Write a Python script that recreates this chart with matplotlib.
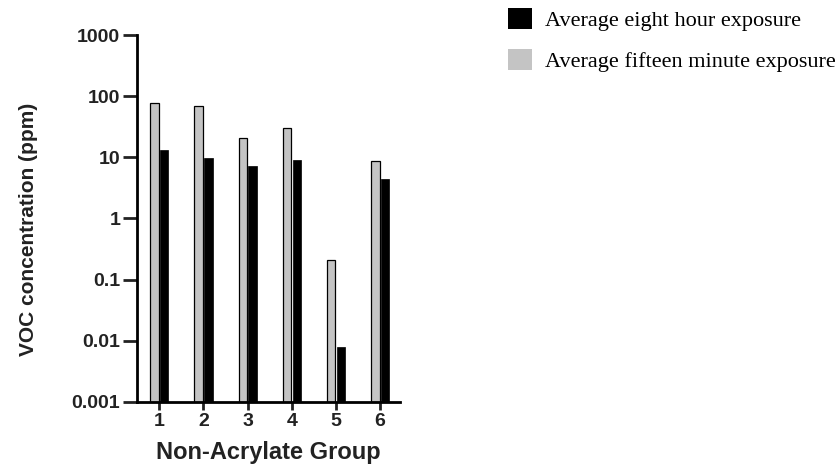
import matplotlib
matplotlib.use("Agg")
import matplotlib.pyplot as plt
from matplotlib.patches import Patch
from matplotlib.ticker import FixedLocator, NullLocator
import numpy as np

groups = ["1", "2", "3", "4", "5", "6"]
fifteen_min = [77, 69, 21, 30, 0.21, 8.6]
eight_hour = [13, 9.7, 7.2, 8.9, 0.0069, 4.5]
y_ticks = [0.001, 0.01, 0.1, 1, 10, 100, 1000]
y_tick_labels = ["0.001", "0.01", "0.1", "1", "10", "100", "1000"]

plt.rcParams['font.family'] = ['Liberation Sans', 'DejaVu Sans']

fig = plt.figure(figsize=(8.4, 4.69), dpi=100)
ax = fig.add_axes([137/840, 1-402/469, (400-137)/840, (402-35)/469])

x = np.arange(1, len(groups)+1)
w = 0.19
ax.bar(x-0.105, fifteen_min, w, color="#c4c4c4", edgecolor="black", linewidth=0.9, bottom=0.001)
ax.bar(x+0.115, eight_hour, w, color="black", edgecolor="black", linewidth=0.5, bottom=0.001)

ax.set_yscale("log")
ax.set_ylim(0.001, 1000)
ax.set_xlim(0.5, 6.45)
ax.yaxis.set_major_locator(FixedLocator(y_ticks))
ax.yaxis.set_minor_locator(NullLocator())
ax.set_yticklabels(y_tick_labels)
ax.set_xticks(x)
ax.set_xticklabels(groups)

for s in ["top", "right"]:
    ax.spines[s].set_visible(False)
for s in ["left", "bottom"]:
    ax.spines[s].set_linewidth(2)
ax.tick_params(axis="y", length=10, width=2, labelsize=14, pad=2, colors="#222222")
ax.tick_params(axis="x", length=6, width=2, labelsize=14, pad=2, colors="#222222")
for lab in ax.get_xticklabels() + ax.get_yticklabels():
    lab.set_fontweight("bold")

ax.set_xlabel("Non-Acrylate Group", fontsize=17, fontweight="bold", color="#222222")
ax.xaxis.set_label_coords(0.5, -0.105)
ax.set_ylabel("VOC concentration (ppm)", fontsize=15, fontweight="bold", color="#222222")
ax.yaxis.set_label_coords(-0.375, 0.47)

handles = [Patch(facecolor="black", edgecolor="none"),
           Patch(facecolor="#c4c4c4", edgecolor="none")]
fig.legend(handles, ["Average eight hour exposure", "Average fifteen minute exposure"],
           loc="upper left", bbox_to_anchor=(508/840, 1-8/469), frameon=False,
           prop={"family": "Liberation Serif", "size": 16},
           borderpad=0, borderaxespad=0, handlelength=1.08, handleheight=1.08,
           handletextpad=0.58, labelspacing=0.8)

fig.savefig("out.png", dpi=100)
